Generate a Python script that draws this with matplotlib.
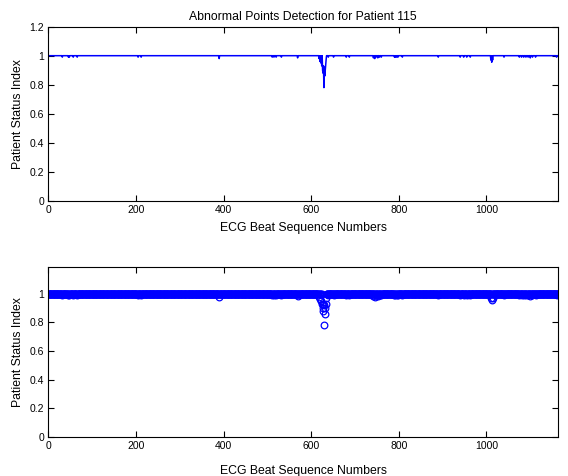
import numpy as np
import matplotlib
matplotlib.use("Agg")
import matplotlib.pyplot as plt

plt.rcParams['font.family'] = ['Liberation Sans', 'DejaVu Sans']

# number of beats, every beat sits at 1 except the dips listed below
n_beats = 1164
dip_idx = [32, 46, 48, 57, 66, 205, 212, 390, 511, 515, 520, 532, 569,
           618, 620, 622, 624, 626, 627, 628, 629, 630, 631, 632, 633, 634,
           639, 651, 680, 687, 742, 745, 748, 752, 756, 760,
           790, 792, 795, 798, 808, 890, 940, 948, 955, 963,
           1010, 1012, 1014, 1040, 1075, 1080, 1085, 1090, 1095, 1100,
           1105, 1112, 1160]
dip_val = [0.99, 0.99, 0.99, 0.99, 0.99, 0.99, 0.99, 0.98, 0.99, 0.99, 0.99, 0.99, 0.985,
           0.98, 0.96, 0.95, 0.93, 0.90, 0.88, 0.93, 0.78, 0.92, 0.86, 0.90, 0.93, 0.97,
           0.99, 0.99, 0.99, 0.99, 0.985, 0.98, 0.99, 0.985, 0.99, 0.99,
           0.99, 0.99, 0.99, 0.99, 0.99, 0.99, 0.99, 0.99, 0.99, 0.99,
           0.97, 0.955, 0.97, 0.99, 0.99, 0.99, 0.99, 0.99, 0.99, 0.985,
           0.99, 0.99, 0.99]

beats = np.arange(1, n_beats + 1)
status = np.ones(n_beats)
status[np.array(dip_idx) - 1] = dip_val

fig = plt.figure(figsize=(5.68, 4.76), dpi=100)
ax1 = fig.add_axes([0.085, 0.578, 0.898, 0.366])
ax2 = fig.add_axes([0.085, 0.082, 0.898, 0.358])

ax1.plot(beats, status, color='b', lw=1.1)
ax1.set_ylim(0, 1.2)
ax1.set_yticks([0, 0.2, 0.4, 0.6, 0.8, 1, 1.2])
ax1.set_yticklabels(['0', '0.2', '0.4', '0.6', '0.8', '1', '1.2'])
ax1.set_title("Abnormal Points Detection for Patient 115", fontsize=8.8, pad=5)

ax2.plot(beats, status, 'o', color='b', mfc='none', ms=4.8, mew=0.9)
ax2.set_ylim(0, 1.19)
ax2.set_yticks([0, 0.2, 0.4, 0.6, 0.8, 1])
ax2.set_yticklabels(['0', '0.2', '0.4', '0.6', '0.8', '1'])

for ax, lp in ((ax1, 5), (ax2, 10)):
    ax.set_xlim(0, n_beats)
    ax.set_xticks([0, 200, 400, 600, 800, 1000])
    ax.tick_params(direction='in', top=True, right=True, length=4,
                   width=0.8, labelsize=7.5, pad=3)
    ax.set_xlabel("ECG Beat Sequence Numbers", fontsize=8.8, labelpad=lp)
    ax.set_ylabel("Patient Status Index", fontsize=8.8, labelpad=4)
    for s in ax.spines.values():
        s.set_linewidth(0.8)

fig.savefig("out.png", dpi=100)
